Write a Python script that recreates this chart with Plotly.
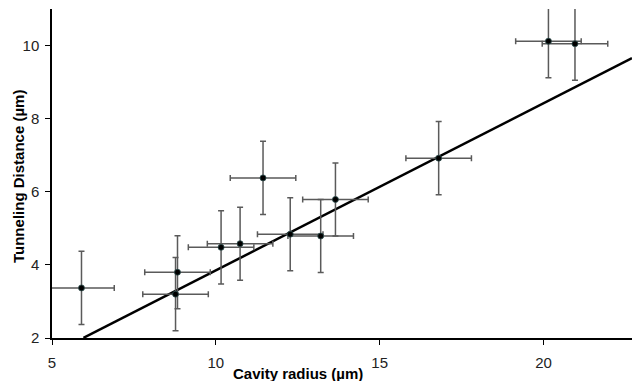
import plotly.graph_objects as go

# Data
cavity_radius = [5.90, 8.83, 8.77, 10.16, 10.74, 11.44, 12.27, 13.20, 13.65, 16.80, 20.15, 20.96]
tunneling_dist = [3.37, 3.80, 3.20, 4.48, 4.58, 6.38, 4.84, 4.79, 5.79, 6.92, 10.12, 10.05]
radius_err = [1.0] * 12
dist_err = [1.0] * 12

fit_slope = 0.457
fit_intercept = -0.72
fit_x = [5.96, 22.7]
fit_y = [fit_slope * v + fit_intercept for v in fit_x]

x_ticks = [5, 10, 15, 20]
y_ticks = [2, 4, 6, 8, 10]

fig = go.Figure()
fig.add_trace(go.Scatter(
    x=fit_x, y=fit_y, mode="lines",
    line=dict(color="black", width=2.5), hoverinfo="skip", showlegend=False,
))
fig.add_trace(go.Scatter(
    x=cavity_radius, y=tunneling_dist, mode="markers",
    marker=dict(color="black", size=6, line=dict(color="#2f4f4f", width=0.8)),
    error_x=dict(type="data", array=radius_err, color="#5a5a5a", thickness=1.5, width=3),
    error_y=dict(type="data", array=dist_err, color="#5a5a5a", thickness=1.5, width=3),
    showlegend=False,
))

axis_font = dict(family="Liberation Sans, Arial, sans-serif", size=15, color="#222")
title_font = dict(family="Liberation Sans, Arial, sans-serif", size=15, color="black")
fig.update_layout(
    width=632, height=381,
    margin=dict(l=52, r=0, t=9, b=43),
    plot_bgcolor="white", paper_bgcolor="white",
    xaxis=dict(range=[5, 22.7], tickvals=x_ticks, showgrid=False, zeroline=False,
               showline=True, linecolor="black", linewidth=1.5,
               ticks="outside", ticklen=5, tickcolor="black", tickfont=axis_font,
               ticklabelstandoff=5),
    yaxis=dict(range=[2, 11], tickvals=y_ticks, showgrid=False, zeroline=False,
               showline=True, linecolor="black", linewidth=1.5,
               ticks="outside", ticklen=5, tickcolor="black", tickfont=axis_font,
               ticklabelstandoff=3),
    annotations=[
        dict(text="<b>Cavity radius (µm)</b>", xref="paper", yref="paper",
             x=(298 - 52) / 580, y=(338 - 373) / 329, xanchor="center", yanchor="middle",
             showarrow=False, font=title_font),
        dict(text="<b>Tunneling Distance (µm)</b>", xref="paper", yref="paper",
             x=(18 - 52) / 580, y=(338 - 177) / 329, xanchor="center", yanchor="middle",
             textangle=-90, showarrow=False, font=title_font),
    ],
)

fig.write_html("out.html")
